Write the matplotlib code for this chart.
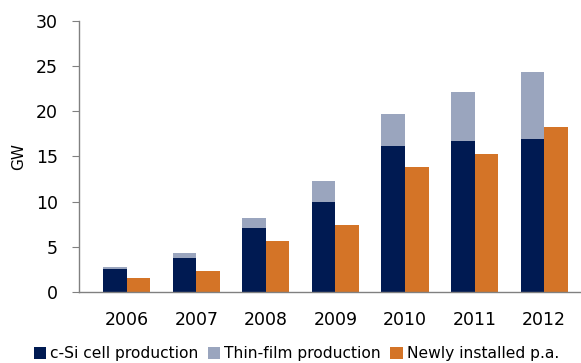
import matplotlib
matplotlib.use("Agg")
import matplotlib.pyplot as plt
import numpy as np

# datos (GW)
years = ["2006", "2007", "2008", "2009", "2010", "2011", "2012"]
csi_cells = [2.5, 3.77, 7.06, 9.94, 16.15, 16.7, 16.93]
thin_film = [0.24, 0.52, 1.11, 2.33, 3.55, 5.44, 7.43]
installed = [1.55, 2.3, 5.65, 7.39, 13.82, 15.27, 18.27]

navy = "#001a52"
grey_blue = "#9aa5be"
orange = "#d47427"
axis_grey = "#808080"

plt.rcParams["font.family"] = ["DejaVu Sans"]

fig = plt.figure(figsize=(5.81, 3.63), dpi=100)
ax = fig.add_axes([0.136, 0.196, 0.864, 0.746])

x = np.arange(len(years))
w = 0.338
ax.bar(x - w / 2, csi_cells, w, color=navy, label="c-Si cell production")
ax.bar(x - w / 2, thin_film, w, bottom=csi_cells, color=grey_blue, label="Thin-film production")
ax.bar(x + w / 2, installed, w, color=orange, label="Newly installed p.a.")

ax.set_xlim(-0.686, 6.53)
ax.set_ylim(0, 30)
ax.set_yticks(range(0, 31, 5))
ax.set_xticks(x)
ax.set_xticklabels(years)
ax.set_ylabel("GW", fontsize=11, labelpad=7)

for s in ["top", "right"]:
    ax.spines[s].set_visible(False)
for s in ["left", "bottom"]:
    ax.spines[s].set_color(axis_grey)
    ax.spines[s].set_linewidth(1.0)
ax.tick_params(axis="y", length=5, color=axis_grey, labelsize=12.5, pad=10)
ax.tick_params(axis="x", length=0, labelsize=12.5, pad=14)

fig.legend(loc="lower center", bbox_to_anchor=(0.51, -0.012), ncol=3, frameon=False,
           fontsize=11.2, handlelength=0.8, handleheight=0.8, handletextpad=0.25,
           columnspacing=0.6, borderaxespad=0)

plt.savefig("out.png", dpi=100)
